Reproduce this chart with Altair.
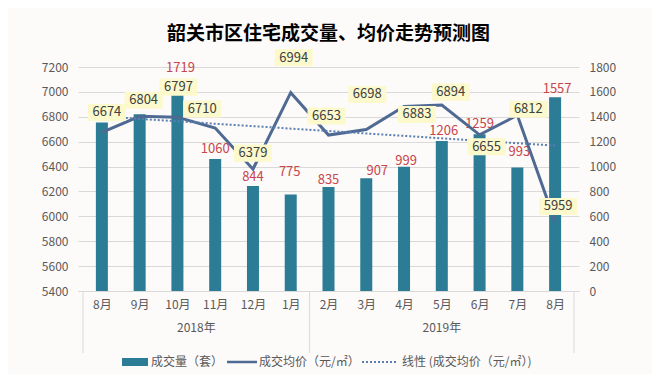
import json
import altair as alt
import pandas as pd

# ---------------- data ----------------
title_text = "韶关市区住宅成交量、均价走势预测图"
months = ["8月", "9月", "10月", "11月", "12月", "1月", "2月", "3月", "4月", "5月", "6月", "7月", "8月"]
years = ["2018年", "2019年"]
months_per_year = [6, 7]
volume = [1354, 1421, 1590, 1060, 844, 775, 835, 907, 999, 1206, 1259, 993, 1557]
volume_labels = ["", "", "1719", "1060", "844", "775", "835", "907", "999", "1206", "1259", "993", "1557"]
price = [6674, 6804, 6797, 6710, 6379, 6994, 6653, 6698, 6883, 6894, 6655, 6812, 5959]
price_ticks = [5400, 5600, 5800, 6000, 6200, 6400, 6600, 6800, 7000, 7200]
volume_ticks = [0, 200, 400, 600, 800, 1000, 1200, 1400, 1600, 1800]
series_names = ["成交量（套）", "成交均价（元/㎡）", "线性 (成交均价（元/㎡）)"]

# ---------------- layout (pixel nudges of the data labels, legend placement) ----------------
price_label_dx = [5, 4, 1, -13, 0, 3, -2, 1, 13, 9, 7, 11, 3]
price_label_dy = [-20, -16, -30, -19, -16, -35, -19, -35, 8, -13, 12, -6, -15]
volume_label_dx = [0, 0, 3, 0, 0, -1, 0, 11, 2, 2, 0, 2, 2]
volume_label_dy = [-10, -10, -25, -10, -9, -23, -7, -7, -6, -10, -10, -15, -8]
legend_swatch_x = [(44, 70), (149, 179), (284, 320)]
legend_text_x = [73, 181, 324]
LEGEND_Y = 295

BAR = "#2b7c94"
LINE = "#4f6a92"
TREND = "#5b7fb0"
BOX = "#fcf9cc"
GRID = "#d9d9d9"
AXIS_TXT = "#595959"
RED = "#c8464b"
FONT = "Noto Sans CJK SC"
W, H = 501, 224

n = len(months)
df = pd.DataFrame({
    "i": list(range(n)),
    "volume": volume,
    "vlabel": volume_labels,
    "price": price,
    "plabel": [str(p) for p in price],
    "pdx": price_label_dx,
    "pdy": price_label_dy,
    "vdx": volume_label_dx,
    "vdy": volume_label_dy,
})

bounds = [-0.5]
for c in months_per_year:
    bounds.append(bounds[-1] + c)
centers = [(bounds[k] + bounds[k + 1]) / 2 for k in range(len(years))]
sep_df = pd.DataFrame({"i": bounds})
year_df = pd.DataFrame({"i": centers, "year": years})

label_expr = json.dumps(months, ensure_ascii=False) + "[datum.value]"
x_enc = alt.X(
    "i:Q",
    scale=alt.Scale(domain=[-0.5, n - 0.5], nice=False, zero=False),
    axis=alt.Axis(title=None, values=list(range(n)), labelExpr=label_expr, grid=False,
                  ticks=False, domain=True, domainColor=GRID, labelPadding=8,
                  labelFontSize=12, labelColor=AXIS_TXT, labelFont=FONT),
)
y_vol = alt.Y(
    "volume:Q",
    scale=alt.Scale(domain=[0, 1800], nice=False),
    axis=alt.Axis(orient="right", values=volume_ticks, format="d", title=None, grid=False, ticks=False,
                  domain=False, labelPadding=10, labelFontSize=12, labelColor=AXIS_TXT, labelFont=FONT),
)
y_price = alt.Y(
    "price:Q",
    scale=alt.Scale(domain=[5400, 7200], nice=False, zero=False),
    axis=alt.Axis(orient="left", values=price_ticks, format="d", title=None, grid=True, gridColor=GRID,
                  ticks=False, domain=False, labelPadding=10, labelFontSize=12,
                  labelColor=AXIS_TXT, labelFont=FONT),
)

base = alt.Chart(df)

bars = base.mark_bar(size=12, color=BAR).encode(x=x_enc, y=y_vol)
bar_labels = base.transform_filter("datum.vlabel !== ''").mark_text(
    fontSize=13, font=FONT, color=RED, baseline="middle", align="center",
    xOffset={"expr": "datum.vdx"}, yOffset={"expr": "datum.vdy"},
).encode(x=x_enc, y=y_vol, text="vlabel:N")
vol_group = alt.layer(bars, bar_labels)

line = base.mark_line(strokeWidth=3, color=LINE).encode(x=x_enc, y=y_price)
trend = base.transform_regression("i", "price", method="linear", extent=[0, n - 1]).mark_line(
    strokeWidth=2, strokeDash=[2, 2], color=TREND
).encode(x=x_enc, y=y_price)
boxes = base.mark_point(
    shape="M-1,-0.45H1V0.45H-1Z", size=1444, filled=True, color=BOX, opacity=1, strokeWidth=0,
    xOffset={"expr": "datum.pdx"}, yOffset={"expr": "datum.pdy"},
).encode(x=x_enc, y=y_price)
price_labels = base.mark_text(
    fontSize=13, font=FONT, color="#404040", baseline="middle", align="center",
    xOffset={"expr": "datum.pdx"}, yOffset={"expr": "datum.pdy"},
).encode(x=x_enc, y=y_price, text="plabel:N")
price_group = alt.layer(line, trend, boxes, price_labels)

seps = alt.Chart(sep_df).mark_rule(color=GRID, strokeWidth=1).encode(
    x=x_enc, y=alt.value(H), y2=alt.value(H + 62)
)
year_text = alt.Chart(year_df).mark_text(fontSize=12, font=FONT, color=AXIS_TXT, baseline="middle").encode(
    x=x_enc, y=alt.value(H + 37), text="year:N"
)

# ---- legend (drawn by hand, Excel style) ----
leg_parts = []
for k, name in enumerate(series_names):
    src = alt.Chart(pd.DataFrame({"name": [name]}))
    x0, x1 = legend_swatch_x[k]
    if k == 0:
        sw = src.mark_rect(color=BAR).encode(
            x=alt.value(x0), x2=alt.value(x1), y=alt.value(LEGEND_Y - 4), y2=alt.value(LEGEND_Y + 4))
    elif k == 1:
        sw = src.mark_rule(color=LINE, strokeWidth=2.5).encode(
            x=alt.value(x0), x2=alt.value(x1), y=alt.value(LEGEND_Y))
    else:
        sw = src.mark_rule(color=TREND, strokeWidth=1.8, strokeDash=[2, 2]).encode(
            x=alt.value(x0), x2=alt.value(x1), y=alt.value(LEGEND_Y))
    tx = src.mark_text(fontSize=12, font=FONT, color=AXIS_TXT, align="left", baseline="middle").encode(
        x=alt.value(legend_text_x[k]), y=alt.value(LEGEND_Y), text="name:N")
    leg_parts += [sw, tx]

chart = alt.layer(vol_group, price_group, seps, year_text, *leg_parts).resolve_scale(y="independent").properties(
    width=W, height=H,
    title=alt.TitleParams(title_text, fontSize=19, font=FONT, fontWeight="bold", color="#000000",
                          anchor="middle", offset=5),
    padding={"left": 70, "top": 59, "right": 73, "bottom": 83},
    autosize=alt.AutoSizeParams(type="none"),
).configure(background="#fdfafa").configure_view(stroke=None)

chart.save("out.html", embed_options={"renderer": "svg", "actions": False})
